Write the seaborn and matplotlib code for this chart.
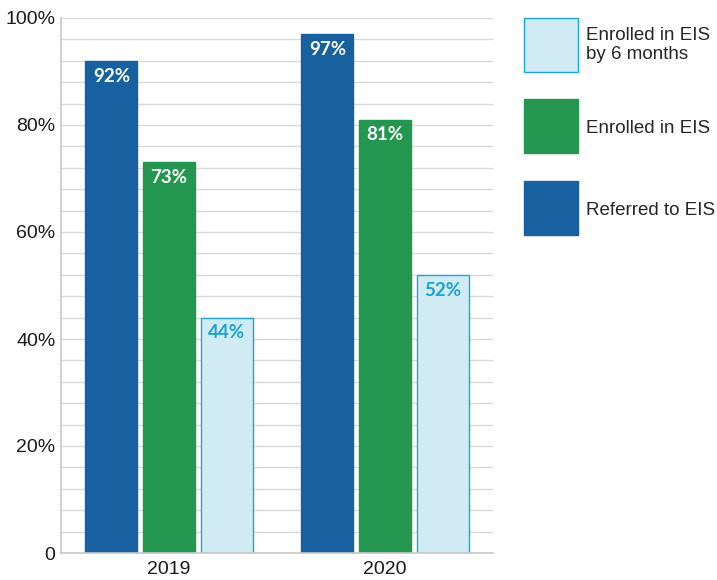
import matplotlib
import matplotlib.pyplot as plt
import pandas as pd
import seaborn as sns
from matplotlib.legend_handler import HandlerPatch
from matplotlib.patches import Patch, Rectangle

matplotlib.use("Agg")

years = ["2019", "2020"]
measures = ["Referred to EIS", "Enrolled in EIS", "Enrolled in EIS\nby 6 months"]
referred = [92, 97]
enrolled = [73, 81]
enrolled_6m = [44, 52]
y_ticks = [0, 20, 40, 60, 80, 100]
y_tick_labels = ["0", "20%", "40%", "60%", "80%", "100%"]

colors = ["#1761A0", "#23964F", "#D0EBF3"]
edge_colors = ["#1761A0", "#23964F", "#1AA6D8"]
label_colors = ["white", "white", "#1AA3D4"]

rows = []
for measure, values in zip(measures, [referred, enrolled, enrolled_6m]):
    for year, value in zip(years, values):
        rows.append({"year": year, "measure": measure, "value": value})
df = pd.DataFrame(rows)

sns.set_theme(style="white")
plt.rcParams["font.family"] = ["Liberation Sans", "DejaVu Sans"]

W, H = 717, 580
fig = plt.figure(figsize=(W / 100, H / 100), dpi=100)
ax = fig.add_axes([61 / W, 27 / H, 432 / W, 535 / H])

sns.barplot(
    data=df, x="year", y="value", hue="measure", order=years, hue_order=measures,
    palette=colors, saturation=1, width=0.8, gap=0.1, legend=False, ax=ax,
)

for container, ec, lc in zip(ax.containers, edge_colors, label_colors):
    for bar in container:
        bar.set_edgecolor(ec)
        bar.set_linewidth(1.0)
        ax.annotate(
            f"{bar.get_height():.0f}%",
            xy=(bar.get_x() + bar.get_width() / 2, bar.get_height()),
            xytext=(0, -11), textcoords="offset points",
            ha="center", va="center", color=lc, fontsize=13.5,
            fontweight="bold", family=["Lato", "DejaVu Sans"],
        )

ax.set_xlim(-0.5, 1.5)
ax.set_ylim(0, 100)
ax.set_yticks(y_ticks)
ax.set_yticklabels(y_tick_labels)
ax.set_yticks(range(0, 101, 4), minor=True)
ax.grid(axis="y", which="both", color="#D9D9D9", linewidth=1.0)
ax.set_axisbelow(True)
ax.tick_params(axis="both", which="both", length=0, labelsize=14, colors="#1A1A1A")
ax.tick_params(axis="y", pad=4)
ax.tick_params(axis="x", pad=6)
ax.set_xlabel("")
ax.set_ylabel("")
for side in ["top", "right"]:
    ax.spines[side].set_visible(False)
for side in ["left", "bottom"]:
    ax.spines[side].set_color("#C8C8C8")
    ax.spines[side].set_linewidth(1.2)


def square_patch(legend, orig_handle, xdescent, ydescent, width, height, fontsize):
    # square the width of the handle, centred on the middle of the label text
    return Rectangle((-xdescent, 0.36 * fontsize - width / 2), width, width)


handles = [
    Patch(facecolor=colors[i], edgecolor=edge_colors[i], linewidth=1.0)
    for i in [2, 1, 0]
]
labels = [measures[i] for i in [2, 1, 0]]
fs = 13.5
px = fs * 100 / 72
fig.legend(
    handles, labels, loc="upper left",
    bbox_to_anchor=(524 / W, 1 - 26 / H), borderaxespad=0, borderpad=0,
    frameon=False, fontsize=fs, handlelength=54 / px, handleheight=54 / px,
    handletextpad=8 / px, labelspacing=42 / px,
    handler_map={Patch: HandlerPatch(patch_func=square_patch)},
)

fig.savefig("out.png", dpi=100)
